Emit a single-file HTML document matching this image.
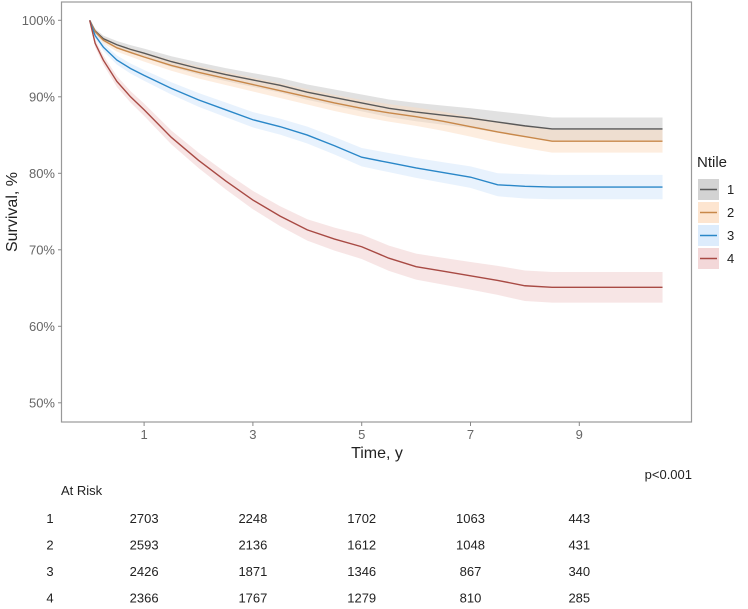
<!DOCTYPE html>
<html><head><meta charset="utf-8"><style>
body{margin:0;background:#fff;width:748px;height:604px;overflow:hidden;font-family:"Liberation Sans",sans-serif}
svg text{font-family:"Liberation Sans",sans-serif}
</style></head><body>
<svg id="chart" width="748" height="604">
<rect x="61.5" y="2" width="630" height="420" fill="#fff" stroke="#999" stroke-width="1.2"/>
<g id="bands"></g><g id="lines"></g><g id="axes"></g><g id="legend"></g><g id="table"></g>
</svg>
<script>
const times=[0,0.1,0.25,0.5,0.75,1,1.5,2,2.5,3,3.5,4,4.5,5,5.5,6,6.5,7,7.5,8,8.5,10.53];
const s1=[100,98.6,97.6,96.8,96.2,95.7,94.6,93.7,92.9,92.2,91.5,90.6,89.9,89.2,88.5,88.0,87.6,87.2,86.7,86.2,85.8,85.8];
const s2=[100,98.5,97.4,96.4,95.8,95.2,94.1,93.2,92.4,91.6,90.8,90.0,89.2,88.5,87.9,87.4,86.8,86.1,85.4,84.8,84.2,84.2];
const s3=[100,98.0,96.5,94.8,93.7,92.8,91.1,89.6,88.3,87.0,86.1,85.0,83.6,82.1,81.4,80.7,80.1,79.5,78.5,78.3,78.2,78.2];
const s4=[100,97.0,94.8,92.0,90.0,88.3,84.7,81.7,79.0,76.5,74.4,72.6,71.4,70.4,68.9,67.8,67.2,66.6,66.0,65.3,65.1,65.1];
const ci1=[0,0.3,0.4,0.5,0.55,0.6,0.7,0.8,0.85,0.9,0.95,1.0,1.05,1.1,1.15,1.2,1.25,1.3,1.4,1.5,1.5,1.5];
const ci2=[0,0.3,0.4,0.5,0.55,0.6,0.7,0.8,0.85,0.9,0.95,1.0,1.05,1.1,1.15,1.2,1.25,1.3,1.4,1.5,1.5,1.5];
const ci3=[0,0.4,0.5,0.6,0.65,0.7,0.8,0.9,0.95,1.0,1.05,1.1,1.15,1.2,1.25,1.3,1.35,1.4,1.5,1.6,1.6,1.6];
const ci4=[0,0.5,0.6,0.7,0.75,0.8,0.9,1.0,1.1,1.2,1.3,1.4,1.5,1.6,1.65,1.7,1.75,1.8,1.9,2.0,2.0,2.0];
const yTicks=[100,90,80,70,60,50];
const xTicks=[1,3,5,7,9];
const groups=["1","2","3","4"];
const riskRows=[[2703,2248,1702,1063,443],[2593,2136,1612,1048,431],[2426,1871,1346,867,340],[2366,1767,1279,810,285]];
const colors=["#595959","#c8884a","#2a87c8","#a84a44"];
const fills=["#c4c4c4","#fcdcc0","#d2e6fb","#efcbcc"];
const series=[s1,s2,s3,s4], cis=[ci1,ci2,ci3,ci4];
const X=t=>89.7+54.4*t, Y=v=>20.3+(100-v)*7.65;
const NS="http://www.w3.org/2000/svg";
function mk(tag,attrs,parent,txt){const e=document.createElementNS(NS,tag);for(const k in attrs)e.setAttribute(k,attrs[k]);if(txt!==undefined)e.textContent=txt;parent.appendChild(e);return e;}
const bands=document.getElementById('bands'),lines=document.getElementById('lines'),axes=document.getElementById('axes'),legend=document.getElementById('legend'),table=document.getElementById('table');
series.forEach((s,i)=>{
  let up=times.map((t,j)=>X(t)+","+Y(Math.min(100,s[j]+cis[i][j]))),lo=times.map((t,j)=>X(t)+","+Y(s[j]-cis[i][j])).reverse();
  const b=mk('polygon',{points:up.concat(lo).join(' '),fill:fills[i],'fill-opacity':0.5},bands);
  
  
  const l=mk('polyline',{points:times.map((t,j)=>X(t)+","+Y(s[j])).join(' '),fill:'none',stroke:colors[i],'stroke-width':1.4},lines);
  
  
});
yTicks.forEach(v=>{
  mk('line',{x1:58,x2:61.5,y1:Y(v),y2:Y(v),stroke:'#888'},axes);
  const t=mk('text',{x:55,y:Y(v)+4.5,'text-anchor':'end','font-size':13,fill:'#666'},axes,v+'%');
  
  
});
xTicks.forEach(v=>{
  mk('line',{x1:X(v),x2:X(v),y1:422,y2:426,stroke:'#888'},axes);
  const t=mk('text',{x:X(v),y:439,'text-anchor':'middle','font-size':13,fill:'#666'},axes,v);
  
  
});
let t=mk('text',{x:377,y:458,'text-anchor':'middle','font-size':16,fill:'#222'},axes,'Time, y');


t=mk('text',{x:0,y:0,'text-anchor':'middle','font-size':16,fill:'#222',transform:'translate(17,212) rotate(-90)'},axes,'Survival, %');


t=mk('text',{x:697,y:167,'font-size':15,fill:'#222'},legend,'Ntile');


groups.forEach((g,i)=>{
  const y=179+i*23;
  const r=mk('rect',{x:698,y:y,width:21,height:21,fill:fills[i],'fill-opacity':0.75},legend);
  
  
  mk('line',{x1:700,x2:717,y1:y+10.5,y2:y+10.5,stroke:colors[i],'stroke-width':1.4},legend);
  const tx=mk('text',{x:727,y:y+15,'font-size':13,fill:'#222'},legend,g);
  
  
});
t=mk('text',{x:692,y:479,'text-anchor':'end','font-size':13,fill:'#222'},table,'p<0.001');


t=mk('text',{x:61,y:495,'font-size':13,fill:'#222'},table,'At Risk');


riskRows.forEach((row,i)=>{
  const y=523+i*26.5;
  const l=mk('text',{x:50,y:y,'text-anchor':'middle','font-size':13,fill:'#222'},table,groups[i]);
  
  
  row.forEach((v,j)=>{
    const c=mk('text',{x:X(xTicks[j]),y:y,'text-anchor':'middle','font-size':13,fill:'#222'},table,v);
    
    
  });
});
</script>
</body></html>
